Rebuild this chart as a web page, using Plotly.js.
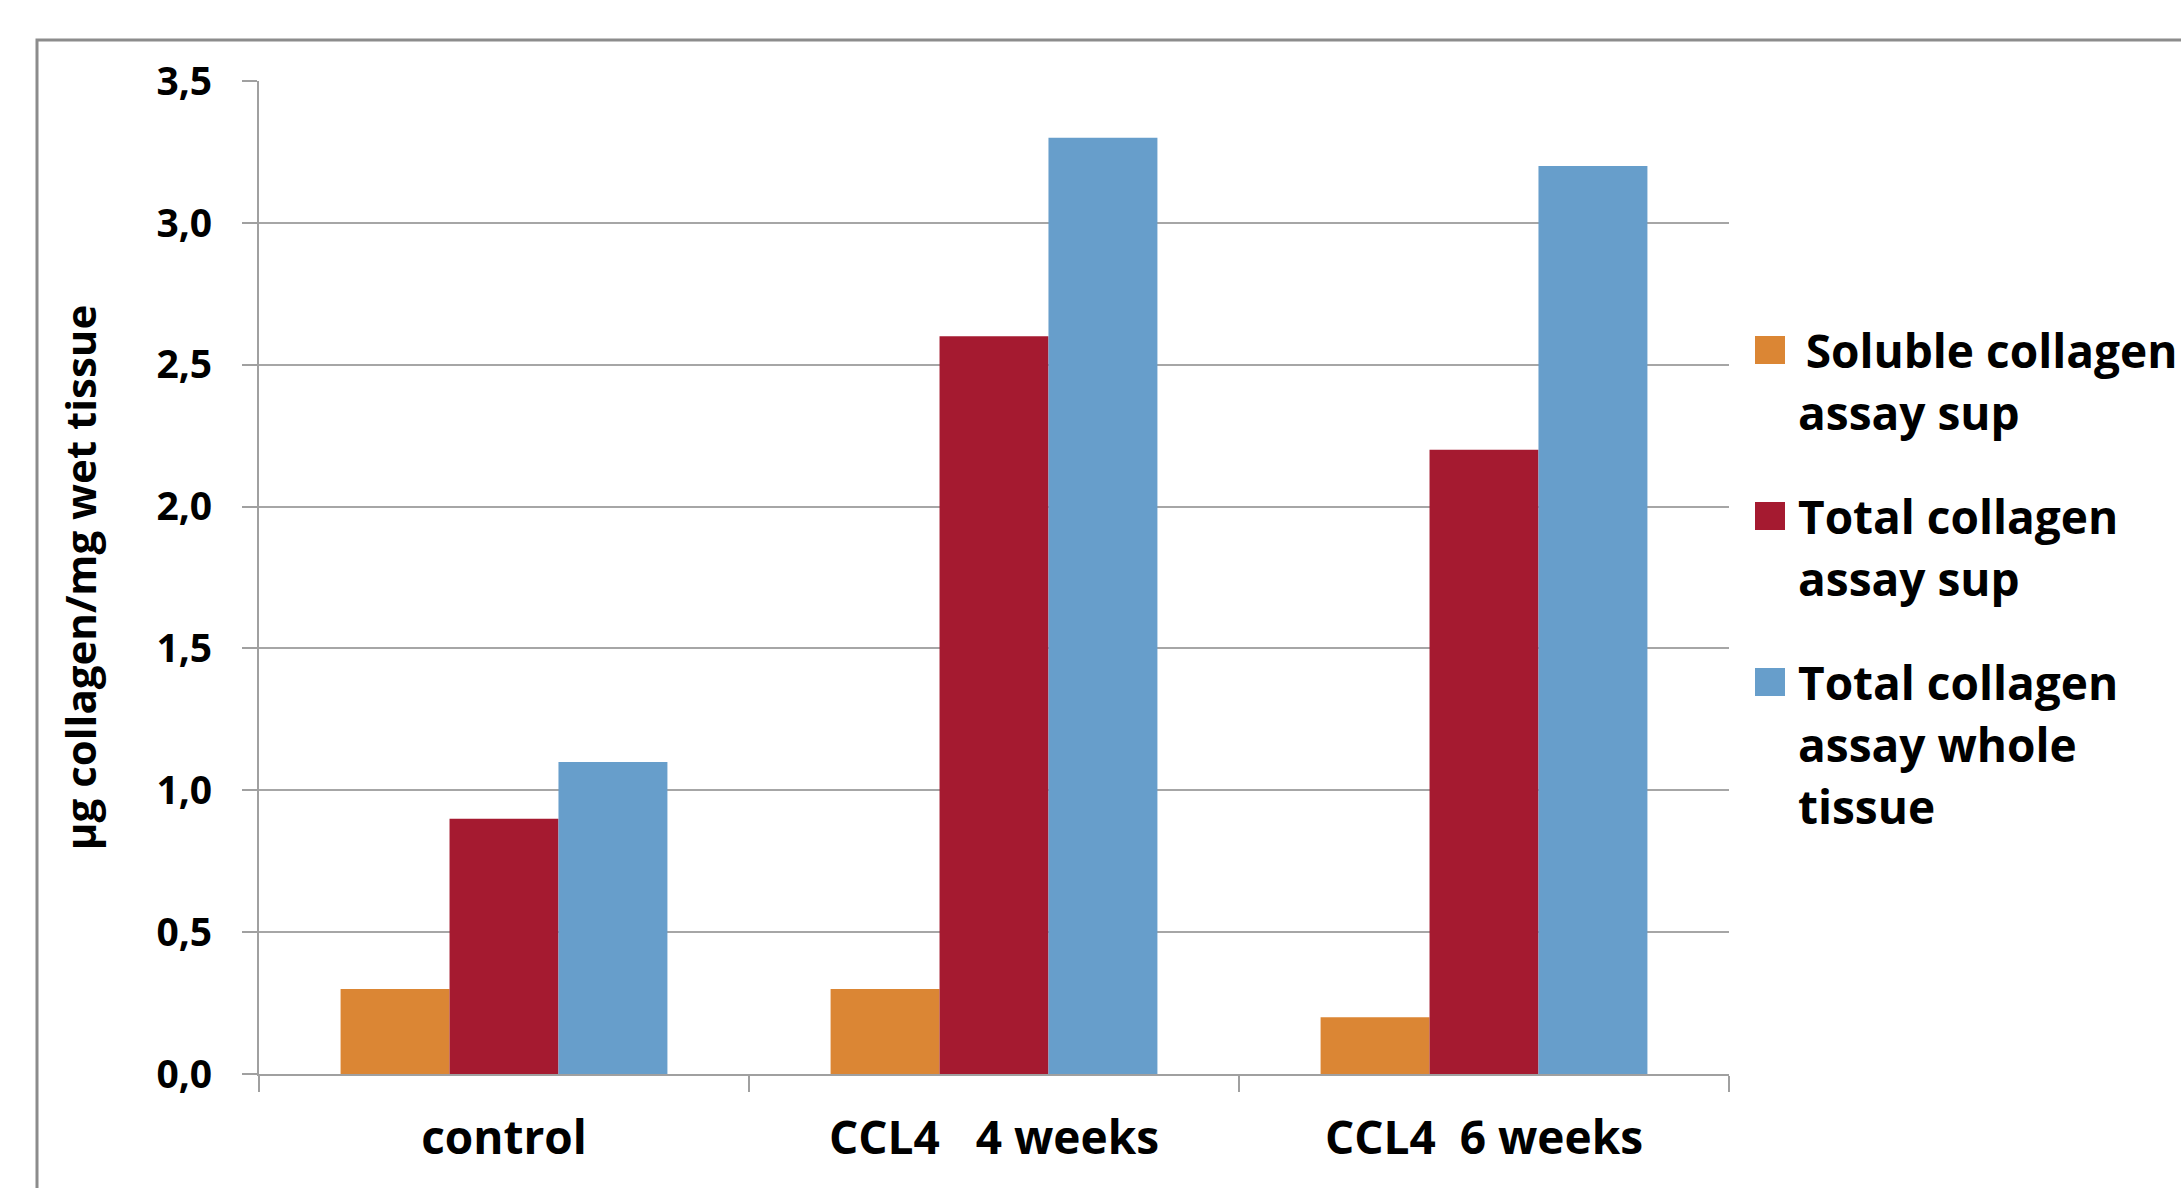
<!DOCTYPE html>
<html>
<head>
<meta charset="utf-8">
<script src="https://cdn.plot.ly/plotly-3.0.1.min.js"></script>
<style>
  html, body { margin: 0; padding: 0; background: #ffffff; }
  #chart { width: 2181px; height: 1188px; }
</style>
</head>
<body>
<div id="chart"></div>
<script>
// ---- data ----
var categories = ["control", "CCL4\u00a0\u00a0\u00a04 weeks", "CCL4\u00a0\u00a06 weeks"];
var solubleSup = [0.3, 0.3, 0.2];
var totalSup   = [0.9, 2.6, 2.2];
var totalWhole = [1.1, 3.3, 3.2];
var seriesNames = [
  "\u2009Soluble collagen<br>assay sup",
  "Total collagen<br>assay sup",
  "Total collagen<br>assay whole<br>tissue"
];
var seriesColors = ["#DB8634", "#A51A30", "#679ECB"];
var yTickVals = [0, 0.5, 1, 1.5, 2, 2.5, 3, 3.5];
var yTitle = "\u00b5g collagen/mg wet tissue";

// ---- geometry ----
var W = 2181, H = 1188;
var M = {l: 259, r: 452, t: 81, b: 114};
var PW = W - M.l - M.r, PH = H - M.t - M.b;
function px(x) { return (x - M.l) / PW; }
function py(y) { return (H - M.b - y) / PH; }

var FONT = "'Open Sans', Lato, sans-serif";
var series = [solubleSup, totalSup, totalWhole];

var traces = series.map(function (vals, i) {
  return {
    type: "bar",
    x: categories,
    y: vals,
    name: seriesNames[i].replace(/<br>/g, " "),
    marker: {color: seriesColors[i], line: {width: 0}},
    showlegend: false
  };
});

// custom legend (large square swatches like the original)
var shapes = [{
  type: "rect", xref: "paper", yref: "paper", layer: "below",
  x0: px(37), x1: px(2400), y0: py(1400), y1: py(40),
  line: {color: "#8c8c8c", width: 3}, fillcolor: "rgba(0,0,0,0)"
}];
var annotations = [];
var itemTop = [350, 516, 682];
var lineStep = 62;
seriesNames.forEach(function (nm, i) {
  shapes.push({
    type: "rect", xref: "paper", yref: "paper",
    x0: px(1755), x1: px(1785), y0: py(itemTop[i] + 14), y1: py(itemTop[i] - 14),
    line: {width: 0}, fillcolor: seriesColors[i]
  });
  nm.split("<br>").forEach(function (ln, j) {
    annotations.push({
      xref: "paper", yref: "paper", x: px(1796), y: py(itemTop[i] + j * lineStep),
      xanchor: "left", yanchor: "middle", showarrow: false, text: ln,
      font: {family: FONT, size: 46, color: "#000000", weight: 700}
    });
  });
});

var layout = {
  width: W, height: H,
  margin: M,
  paper_bgcolor: "#ffffff", plot_bgcolor: "#ffffff",
  separators: ",.",
  showlegend: false,
  barmode: "group",
  bargap: 0.333,
  bargroupgap: 0,
  font: {family: FONT, color: "#000000"},
  xaxis: {
    type: "category",
    showgrid: false,
    showline: true, linecolor: "#a0a0a0", linewidth: 2,
    ticks: "outside", tickson: "boundaries", ticklen: 16, tickwidth: 2, tickcolor: "#a0a0a0",
    tickfont: {family: FONT, size: 46, color: "#000000", weight: 700},
    ticklabelstandoff: 23,
    zeroline: false,
    automargin: false
  },
  yaxis: {
    range: [0, 3.5],
    tickvals: yTickVals,
    tickformat: ".1f",
    showgrid: true, gridcolor: "#a6a6a6", gridwidth: 2,
    showline: true, linecolor: "#a0a0a0", linewidth: 2,
    ticks: "outside", ticklen: 15, tickwidth: 2, tickcolor: "#a0a0a0",
    tickfont: {family: FONT, size: 39, color: "#000000", weight: 700},
    ticklabelstandoff: 22,
    zeroline: false,
    automargin: false,
    title: {text: yTitle, font: {family: FONT, size: 42, color: "#000000", weight: 700}, standoff: 47}
  },
  shapes: shapes,
  annotations: annotations
};

Plotly.newPlot("chart", traces, layout, {displayModeBar: false, staticPlot: true});
</script>
</body>
</html>
